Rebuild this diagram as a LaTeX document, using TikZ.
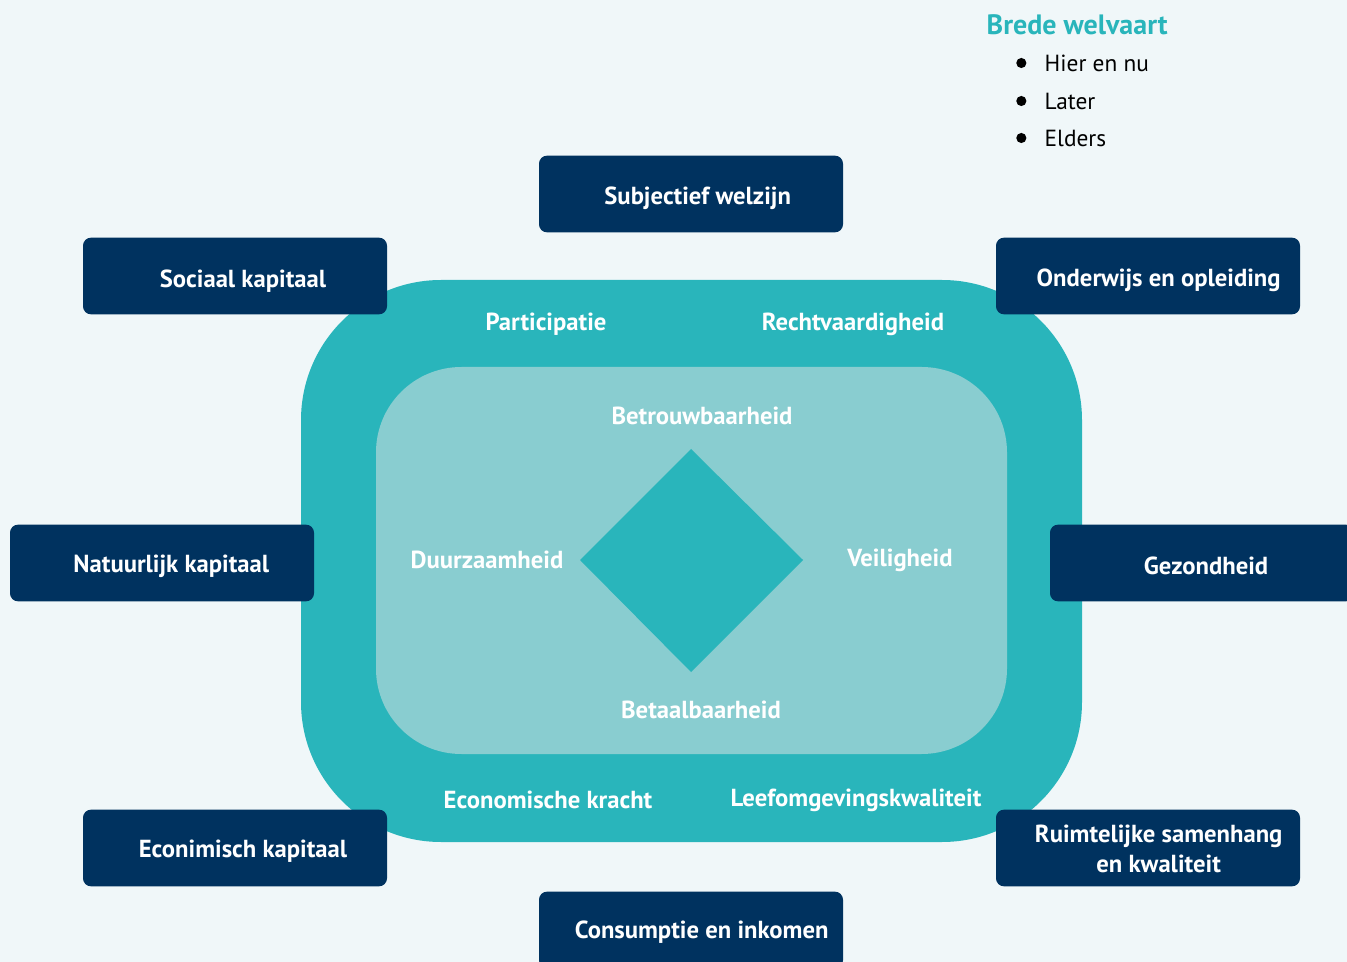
\documentclass[tikz,border=0pt]{standalone}
\usepackage{fontspec}
\setmainfont{PT Sans}
\definecolor{bgpale}{HTML}{F0F7F9}
\definecolor{navy}{HTML}{00325F}
\definecolor{teal}{HTML}{29B5BB}
\definecolor{lightteal}{HTML}{89CDD0}
\tikzset{
  pillar/.style={fill=navy, rounded corners=6pt, minimum width=228pt, minimum height=57.5pt, inner sep=0pt},
  pillartext/.style={text=white, font=\bfseries\fontsize{18.5}{22.5}\selectfont, align=center, inner sep=0pt},
  aspect/.style={text=white, font=\bfseries\fontsize{18.5}{22.5}\selectfont},
  bulletitem/.style={anchor=west, font=\fontsize{17.5}{21}\selectfont}
}
\begin{document}
\begin{tikzpicture}[x=0.75pt, y=-0.75pt]
  \fill[bgpale] (0,0) rectangle (1347,962);
  \useasboundingbox (0,0) rectangle (1347,962);
  \fill[teal, rounded corners=105pt] (301,280) rectangle (1082,842);
  \fill[lightteal, rounded corners=64pt] (376,367) rectangle (1007,754);
  \fill[teal] (580,560) -- (691,449) -- (803,560) -- (691,672) -- cycle;
  % aspects
  \node[aspect] (particip) at (546,324) {Participatie};
  \node[aspect] (recht) at (853,324) {Rechtvaardigheid};
  \node[aspect] (betrouw) at (702,416) {Betrouwbaarheid};
  \node[aspect] (duurz) at (487,560) {Duurzaamheid};
  \node[aspect] (veilig) at (900,560) {Veiligheid};
  \node[aspect] (betaal) at (701,710) {Betaalbaarheid};
  \node[aspect] (econkracht) at (548,800) {Economische kracht};
  \node[aspect] (leefomg) at (856,800) {Leefomgevingskwaliteit};
  % themes
  \node[pillar] (subj) at (691,194) {};
  \node[pillar] (sociaal) at (235,276) {};
  \node[pillar] (onderwijs) at (1148,276) {};
  \node[pillar] (natuur) at (162,563) {};
  \node[pillar] (gezond) at (1202,563) {};
  \node[pillar] (econkap) at (235,848) {};
  \node[pillar] (ruimte) at (1148,848) {};
  \node[pillar] (consump) at (691,930) {};
  \node[pillartext] (subj-t) at ([xshift=5pt,yshift=-3.5pt]subj.center) {Subjectief welzijn};
  \node[pillartext] (sociaal-t) at ([xshift=6pt,yshift=-3.5pt]sociaal.center) {Sociaal kapitaal};
  \node[pillartext] (onderwijs-t) at ([xshift=8pt,yshift=-3.5pt]onderwijs.center) {Onderwijs en opleiding};
  \node[pillartext] (natuur-t) at ([xshift=7pt,yshift=-2.5pt]natuur.center) {Natuurlijk kapitaal};
  \node[pillartext] (gezond-t) at ([xshift=3pt,yshift=-2.5pt]gezond.center) {Gezondheid};
  \node[pillartext] (econkap-t) at ([xshift=6pt,yshift=-2.5pt]econkap.center) {Econimisch kapitaal};
  \node[pillartext] (ruimte-t) at ([xshift=8pt,yshift=-1pt]ruimte.center) {Ruimtelijke samenhang\\en kwaliteit};
  \node[pillartext] (consump-t) at ([xshift=8pt,yshift=-1.5pt]consump.center) {Consumptie en inkomen};
  % legend
  \node[anchor=west, text=teal, font=\bfseries\fontsize{21}{25}\selectfont] (brede) at (982,25) {Brede welvaart};
  \node[bulletitem] (hier) at (1040,63) {Hier en nu};
  \node[bulletitem] (later) at (1040,101) {Later};
  \node[bulletitem] (elders) at (1040,138) {Elders};
  \foreach \n in {hier,later,elders}
    \fill ([xshift=-14pt]\n.west) circle (3.8pt);
\end{tikzpicture}
\end{document}
